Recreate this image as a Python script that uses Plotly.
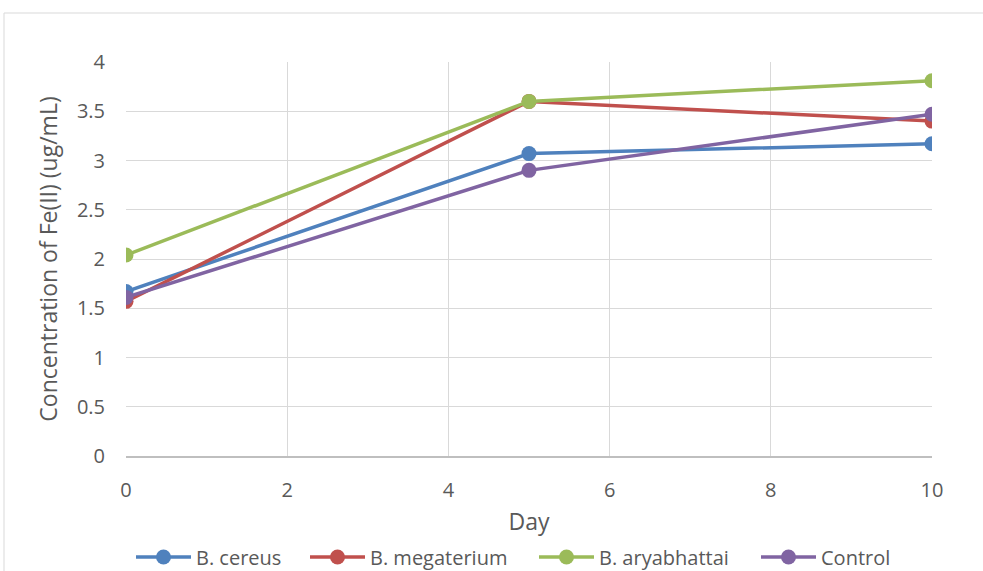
import plotly.graph_objects as go

# Sampling days
days = [0, 5, 10]

# Fe(II) concentration (ug/mL) per strain
b_cereus = [1.67, 3.07, 3.17]
b_megaterium = [1.57, 3.60, 3.40]
b_aryabhattai = [2.04, 3.60, 3.81]
control = [1.61, 2.90, 3.47]

series = [
    ("B. cereus", b_cereus, "#4F81BD"),
    ("B. megaterium", b_megaterium, "#C0504D"),
    ("B. aryabhattai", b_aryabhattai, "#9BBB59"),
    ("Control", control, "#8064A2"),
]

FONT = "'Open Sans', sans-serif"
GRID = "#d9d9d9"
TEXT = "#595959"

W, H = 983, 571
L, R, T, B = 126, 51, 62, 115
pw, ph = W - L - R, H - T - B

# Left pixel edge of each legend entry along the bottom row
legend_left_px = [131, 305, 534, 756]

fig = go.Figure()
layout_legends = {}
for i, (name, vals, color) in enumerate(series):
    key = "legend" if i == 0 else f"legend{i + 1}"
    fig.add_trace(go.Scatter(
        x=days, y=vals, name=name, mode="lines+markers",
        line=dict(color=color, width=3.5),
        marker=dict(color=color, size=15),
        legend=key,
    ))
    layout_legends[key] = dict(
        orientation="h", xanchor="left", yanchor="middle",
        x=(legend_left_px[i] - L) / pw, y=(H - B - 557) / ph,
        font=dict(size=20, color=TEXT), itemwidth=55,
        bgcolor="rgba(0,0,0,0)",
    )

# Outer chart frame
fig.add_shape(
    type="rect", xref="paper", yref="paper",
    x0=(4 - L) / pw, x1=(W + 10 - L) / pw,
    y0=(H - B - (H + 10)) / ph, y1=(H - B - 13) / ph,
    line=dict(color=GRID, width=1), fillcolor="rgba(0,0,0,0)", layer="below",
)

fig.update_layout(
    width=W, height=H,
    margin=dict(l=L, r=R, t=T, b=B, autoexpand=False),
    paper_bgcolor="white", plot_bgcolor="white",
    font=dict(family=FONT, size=20, color=TEXT),
    showlegend=True,
    xaxis=dict(
        range=[0, 10], dtick=2, tick0=0,
        showgrid=True, gridcolor=GRID, gridwidth=1,
        showline=True, linecolor="#bfbfbf", linewidth=1.5,
        zeroline=False, ticks="", ticklabelstandoff=15,
        title=dict(text="Day", standoff=12, font=dict(size=23, color=TEXT)),
    ),
    yaxis=dict(
        range=[0, 4], dtick=0.5, tick0=0,
        showgrid=True, gridcolor=GRID, gridwidth=1,
        showline=False, zeroline=False, ticks="", ticklabelstandoff=20,
        title=dict(text="Concentration of Fe(II) (ug/mL)", standoff=12,
                   font=dict(size=23, color=TEXT)),
    ),
    **layout_legends,
)

fig.write_html("out.html")
